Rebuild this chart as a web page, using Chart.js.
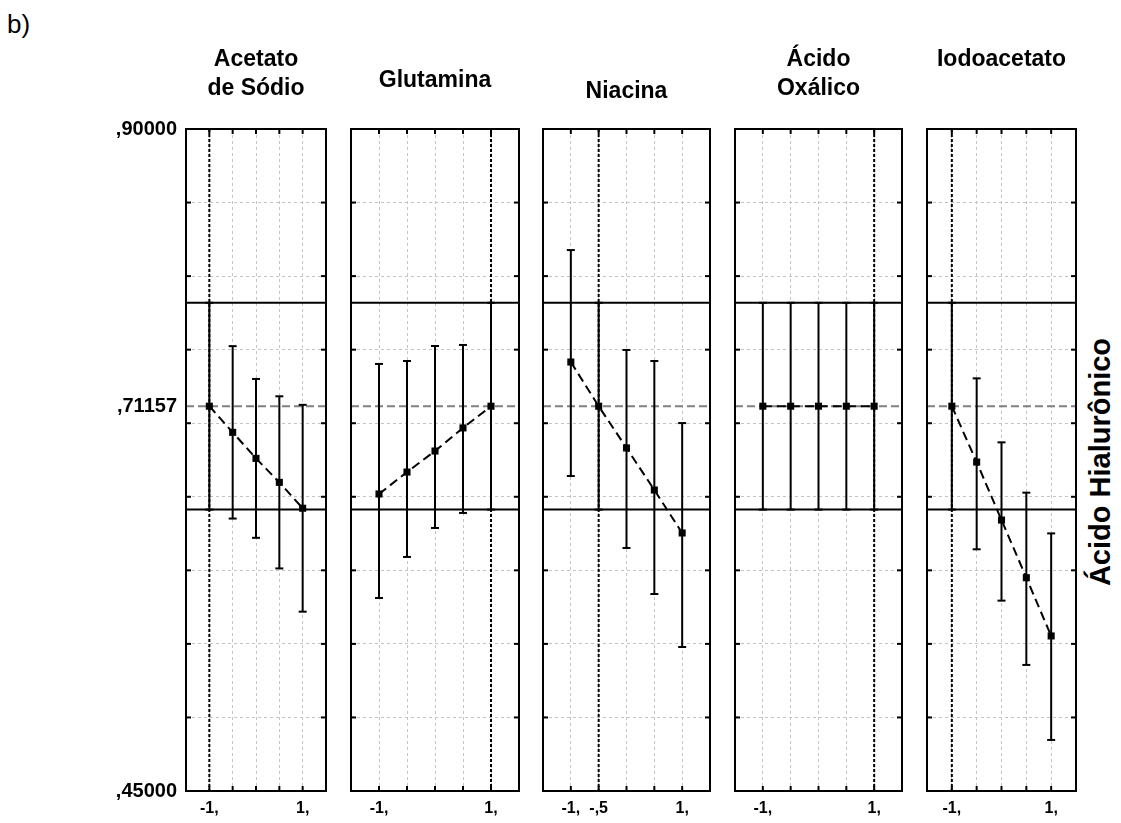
<!DOCTYPE html>
<html>
<head>
<meta charset="utf-8">
<title>Perfis - Ácido Hialurônico</title>
<script src="https://cdn.jsdelivr.net/npm/chart.js@4.4.0/dist/chart.umd.min.js"></script>
<style>
  html, body { margin: 0; padding: 0; background: #fff; }
  #wrap { position: relative; width: 1121px; height: 823px; overflow: hidden; }
  #wrap canvas { position: absolute; top: 0; }
  .lbl { position: absolute; font-family: 'Liberation Sans', Arial, sans-serif; color: #000; white-space: nowrap; }
  #tag { left: 7px; top: 11px; font-size: 26px; line-height: 26px; }
  #ytitle { left: 1100px; top: 462px; font-size: 29px; font-weight: bold; line-height: 29px;
            transform: translate(-50%, -50%) rotate(-90deg); }
</style>
</head>
<body>
<div id="wrap">
  <div class="lbl" id="tag">b)</div>
  <div class="lbl" id="ytitle">Ácido Hialurônico</div>
</div>
<script>
// factor levels (coded) and the fitted profile of each factor
const levels = [-1, -0.5, 0, 0.5, 1];
const factorNames = [['Acetato', 'de Sódio'], ['Glutamina'], ['Niacina'], ['Ácido', 'Oxálico'], ['Iodoacetato']];
const currentLevel = [-1, 1, -0.5, 1, -1];

const acetato = [0.71157, 0.6938, 0.6761, 0.6598, 0.6422];
const acetatoHi = [0.78187, 0.7524, 0.7301, 0.7183, 0.7125];
const acetatoLo = [0.64127, 0.6352, 0.6221, 0.6013, 0.5719];

const glutamina = [0.6519, 0.6668, 0.6811, 0.6968, 0.71157];
const glutaminaHi = [0.7403, 0.7423, 0.7525, 0.7532, 0.78187];
const glutaminaLo = [0.5812, 0.6091, 0.6288, 0.6390, 0.64127];

const niacina = [0.7416, 0.71157, 0.6832, 0.6546, 0.6254];
const niacinaHi = [0.8177, 0.78187, 0.7498, 0.7423, 0.7001];
const niacinaLo = [0.6641, 0.64127, 0.6152, 0.5839, 0.5479];

const oxalico = [0.71157, 0.71157, 0.71157, 0.71157, 0.71157];
const oxalicoHi = [0.78187, 0.78187, 0.78187, 0.78187, 0.78187];
const oxalicoLo = [0.64127, 0.64127, 0.64127, 0.64127, 0.64127];

const iodoacetato = [0.71157, 0.6736, 0.6342, 0.5950, 0.5554];
const iodoacetatoHi = [0.78187, 0.7305, 0.6870, 0.6528, 0.6251];
const iodoacetatoLo = [0.64127, 0.6143, 0.5794, 0.5357, 0.4847];

const predicted = 0.71157;
const predictedHi = 0.78187;
const predictedLo = 0.64127;
const yTicks = [0.45, 0.50, 0.55, 0.60, 0.65, 0.70, 0.75, 0.80, 0.85, 0.90];
const yLabels = [0.45, 0.71157, 0.90];

const means = [acetato, glutamina, niacina, oxalico, iodoacetato];
const upper = [acetatoHi, glutaminaHi, niacinaHi, oxalicoHi, iodoacetatoHi];
const lower = [acetatoLo, glutaminaLo, niacinaLo, oxalicoLo, iodoacetatoLo];

// panel placement
const panelLeft = [186, 351, 543, 735, 927];
const panelRight = [326, 519, 710, 902, 1076];
const titleMid = [60, 81, 92, 60, 60];
const plotTop = 129, plotBottom = 791, H = 823;
const FONT = "'Liberation Sans', Arial, sans-serif";

function fmtX(v) {
  if (Number.isInteger(v)) return v + ',';
  return (v < 0 ? '-' : '') + ',' + String(Math.abs(v)).split('.')[1];
}
function fmtY(v) {
  return v.toFixed(5).replace(/^0\./, ',');
}
function seg(ctx, x1, y1, x2, y2) {
  ctx.beginPath(); ctx.moveTo(x1, y1); ctx.lineTo(x2, y2); ctx.stroke();
}

const profileLines = {
  id: 'profileLines',
  beforeDatasetsDraw(chart, args, opts) {
    const {ctx, chartArea: a} = chart;
    const x = chart.scales.x, y = chart.scales.y;
    ctx.save();
    // limits of the interval at the current setting
    ctx.strokeStyle = '#000';
    ctx.lineWidth = 2;
    [predictedLo, predictedHi].forEach(v => {
      const py = y.getPixelForValue(v);
      seg(ctx, a.left, py, a.right, py);
    });
    // predicted response
    ctx.strokeStyle = '#808080';
    ctx.setLineDash([8, 4]);
    const pp = y.getPixelForValue(predicted);
    seg(ctx, a.left, pp, a.right, pp);
    // current level of the factor
    ctx.strokeStyle = '#000';
    ctx.setLineDash([3, 2]);
    const ox = x.getPixelForValue(opts.level);
    seg(ctx, ox, a.top, ox, a.bottom);
    // confidence bars
    ctx.setLineDash([]);
    levels.forEach((lv, k) => {
      const px = x.getPixelForValue(lv);
      const top = y.getPixelForValue(opts.hi[k]);
      const bot = y.getPixelForValue(opts.lo[k]);
      seg(ctx, px, top, px, bot);
      seg(ctx, px - 4, top, px + 4, top);
      seg(ctx, px - 4, bot, px + 4, bot);
    });
    ctx.restore();
  },
  afterDatasetsDraw(chart) {
    const {ctx, chartArea: a} = chart;
    const x = chart.scales.x, y = chart.scales.y;
    ctx.save();
    ctx.strokeStyle = '#000';
    ctx.lineWidth = 2;
    ctx.strokeRect(a.left, a.top, a.right - a.left, a.bottom - a.top);
    const t = 5;
    levels.forEach(lv => {
      const px = x.getPixelForValue(lv);
      seg(ctx, px, a.top, px, a.top + t);
      seg(ctx, px, a.bottom, px, a.bottom - t);
    });
    yTicks.forEach(v => {
      const py = y.getPixelForValue(v);
      seg(ctx, a.left, py, a.left + t, py);
      seg(ctx, a.right, py, a.right - t, py);
    });
    ctx.restore();
  }
};

const wrap = document.getElementById('wrap');

factorNames.forEach((name, i) => {
  const canvas = document.createElement('canvas');
  const left = i === 0 ? 0 : panelLeft[i] - 10;
  const width = panelRight[i] + 10 - left;
  canvas.width = width;
  canvas.height = H;
  canvas.style.left = left + 'px';
  canvas.style.width = width + 'px';
  canvas.style.height = H + 'px';
  wrap.appendChild(canvas);

  const lh = 29;
  const padTop = titleMid[i] - lh / 2;
  const padBottom = plotTop - padTop - name.length * lh;
  const lvl = currentLevel[i];

  new Chart(canvas, {
    type: 'line',
    data: {
      datasets: [{
        data: levels.map((lv, k) => ({x: lv, y: means[i][k]})),
        borderColor: '#000',
        borderWidth: 2,
        borderDash: [9, 5],
        tension: 0,
        pointStyle: 'rect',
        pointRadius: 5,
        pointBorderWidth: 0,
        pointBackgroundColor: '#000'
      }]
    },
    options: {
      responsive: false,
      animation: false,
      devicePixelRatio: 1,
      layout: {padding: {left: 0, right: 10, top: 0, bottom: 0}},
      plugins: {
        legend: {display: false},
        tooltip: {enabled: false},
        title: {
          display: true,
          text: name,
          fullSize: false,
          color: '#000',
          font: {family: FONT, size: 23, weight: 'bold', lineHeight: lh + 'px'},
          padding: {top: padTop, bottom: padBottom}
        },
        profileLines: {level: lvl, hi: upper[i], lo: lower[i]}
      },
      scales: {
        x: {
          type: 'linear',
          min: -1.5,
          max: 1.5,
          afterBuildTicks: s => { s.ticks = levels.map(v => ({value: v})); },
          afterFit: s => { s.height = H - plotBottom; },
          grid: {color: '#c4c4c4', lineWidth: 1, drawTicks: false},
          border: {display: false, dash: [3, 3]},
          ticks: {
            autoSkip: false,
            maxRotation: 0,
            padding: 8,
            color: '#000',
            font: {family: FONT, size: 16, weight: 'bold'},
            callback: v => (v === -1 || v === 1 || v === lvl) ? fmtX(v) : ''
          }
        },
        y: {
          type: 'linear',
          min: 0.45,
          max: 0.90,
          afterBuildTicks: s => {
            const vals = i === 0 ? yTicks.concat([predicted]) : yTicks.slice();
            s.ticks = vals.sort((p, q) => p - q).map(v => ({value: v}));
          },
          afterFit: s => { s.width = i === 0 ? panelLeft[0] : 10; },
          grid: {
            color: c => (c.tick && c.tick.value === predicted) ? 'rgba(0,0,0,0)' : '#c4c4c4',
            lineWidth: 1,
            drawTicks: false
          },
          border: {display: false, dash: [3, 3]},
          ticks: {
            display: i === 0,
            autoSkip: false,
            padding: 9,
            color: '#000',
            font: {family: FONT, size: 20, weight: 'bold'},
            callback: v => yLabels.includes(v) ? fmtY(v) : ''
          }
        }
      }
    },
    plugins: [profileLines]
  });
});
</script>
</body>
</html>
